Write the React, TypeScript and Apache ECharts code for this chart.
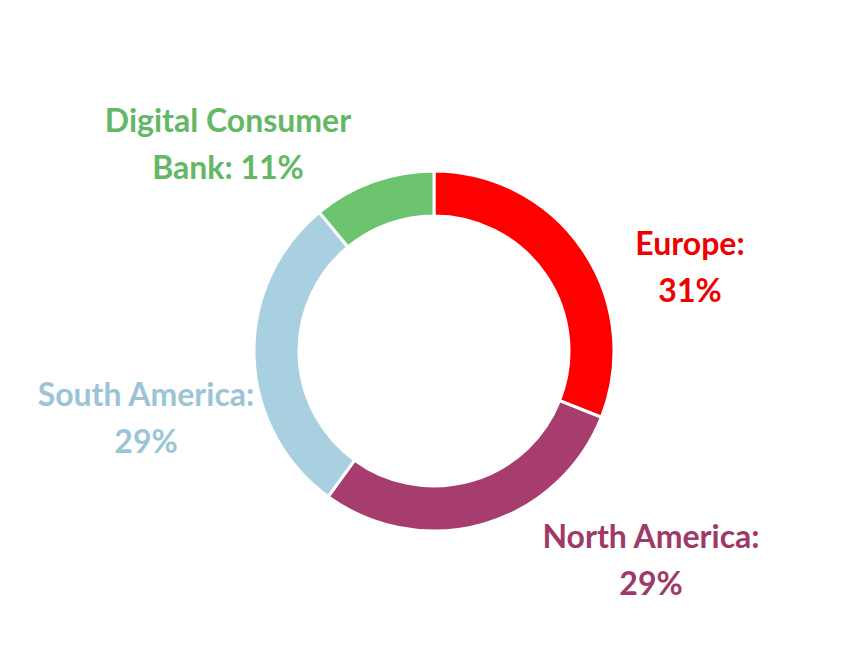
import React, { useEffect, useRef } from "react";
import * as echarts from "echarts";

const categories = ["Europe", "North America", "South America", "Digital Consumer Bank"];
const shares = [31, 29, 29, 11];
const sliceColors = ["#ff0000", "#a63d6e", "#a8d0e0", "#6cc46f"];
const labelColors = ["#ee0000", "#9e3a68", "#9cc4d6", "#63b765"];
const labelLines = [
  ["Europe:", "31%"],
  ["North America:", "29%"],
  ["South America:", "29%"],
  ["Digital Consumer", "Bank: 11%"],
];
const labelCenters = [
  [690, 266],
  [651, 559],
  [146, 417],
  [228, 143],
];

export default function App() {
  const ref = useRef<HTMLDivElement>(null);
  useEffect(() => {
    if (!ref.current) return;
    const chart = echarts.init(ref.current, undefined, { renderer: "svg" });
    chart.setOption({
      animation: false,
      backgroundColor: "#ffffff",
      series: [
        {
          type: "pie",
          center: [434, 351],
          radius: [135, 180],
          startAngle: 90,
          clockwise: true,
          avoidLabelOverlap: false,
          itemStyle: { borderColor: "#ffffff", borderWidth: 3 },
          emphasis: { disabled: true },
          labelLine: { show: false },
          label: {
            show: true,
            position: "outside",
            fontFamily: "Lato",
            fontWeight: "bold",
            fontSize: 32,
            lineHeight: 47,
            align: "center",
            formatter: (p: any) => labelLines[p.dataIndex].join("\n"),
          },
          labelLayout: (p: any) => ({
            x: labelCenters[p.dataIndex][0],
            y: labelCenters[p.dataIndex][1],
            align: "center",
            verticalAlign: "middle",
          }),
          data: categories.map((name, i) => ({
            name,
            value: shares[i],
            itemStyle: { color: sliceColors[i] },
            label: { color: labelColors[i] },
          })),
        },
      ],
    });
    return () => chart.dispose();
  }, []);
  return (
    <div
      ref={ref}
      style={{ position: "fixed", left: 0, top: 0, width: 851, height: 664 }}
    />
  );
}
